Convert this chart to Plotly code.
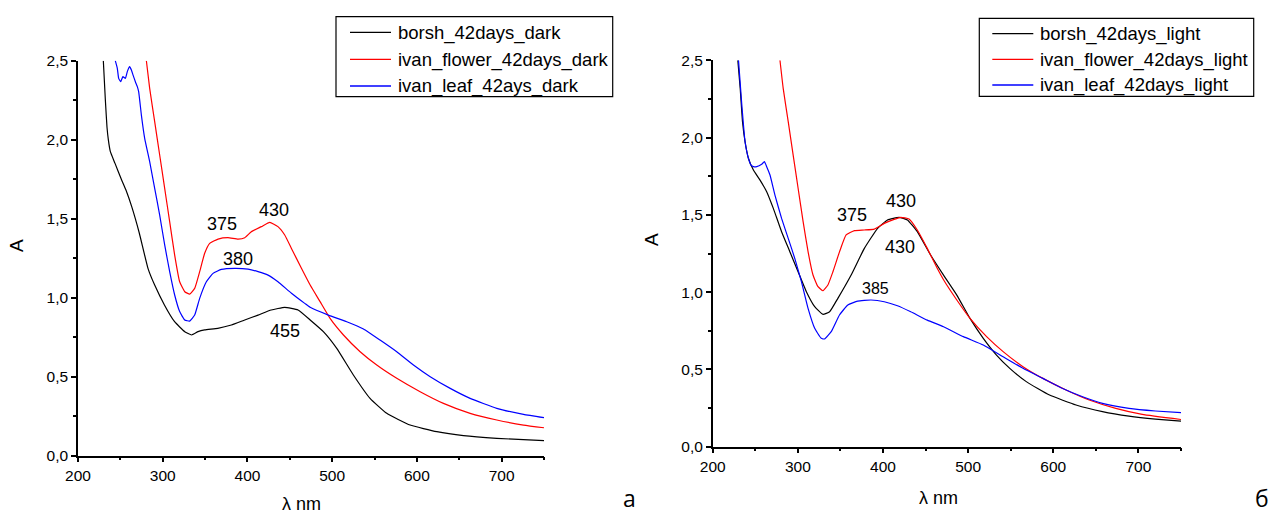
import plotly.graph_objects as go

# ---------------- data ----------------
# Panel a (dark)
borsh_dark_x = [229.9, 232.3, 234.2, 235.8, 238.2, 243.7, 251.5, 256.7, 263.4, 272.4, 282.6, 290.5, 302, 314, 326,
                334, 341.7, 349.5, 365, 381, 396.8, 412.5, 428, 444, 459.7, 474, 489.6, 505.4, 525, 544.7, 564.4,
                592, 623.5, 655, 694.3, 750]
borsh_dark_y = [2.50, 2.25, 2.08, 2.00, 1.924, 1.85, 1.745, 1.68, 1.576, 1.408, 1.186, 1.08, 0.954, 0.848, 0.785,
                0.764, 0.785, 0.796, 0.806, 0.827, 0.859, 0.890, 0.922, 0.939, 0.922, 0.859, 0.785, 0.679, 0.511,
                0.363, 0.268, 0.194, 0.152, 0.127, 0.110, 0.095]

flower_dark_x = [280.7, 284.6, 290.5, 296.4, 302.3, 308.2, 314.1, 320, 326, 331.8, 337.7, 343.6, 349.5, 355.4,
                 365.3, 377, 389, 396.8, 404.6, 416.5, 426.3, 436, 444, 451.9, 463.7, 474, 485.7, 497.5, 513.3,
                 533, 552.6, 576.2, 603.8, 631.3, 662.8, 694.3, 725.8, 750]
flower_dark_y = [2.50, 2.325, 2.114, 1.903, 1.692, 1.481, 1.270, 1.101, 1.038, 1.023, 1.059, 1.165, 1.281, 1.344,
                 1.371, 1.380, 1.371, 1.380, 1.418, 1.450, 1.477, 1.450, 1.397, 1.312, 1.186, 1.080, 0.975, 0.869, 0.764,
                 0.658, 0.574, 0.490, 0.405, 0.331, 0.268, 0.226, 0.194, 0.177]

leaf_dark_x = [244, 246.4, 248, 250.4, 253, 255.9, 258.2, 261, 263, 265, 267.7, 270, 271.6, 274.8, 278.7, 284.6,
               290.5, 296.4, 302.3, 308.2, 314.1, 320, 326, 331.8, 337.7, 343.6, 351.5, 359.4, 369.2, 385, 400.7,
               412.5, 424.3, 436, 451.9, 467.6, 474, 495.5, 517.2, 536.9, 556.5, 576.2, 595.9, 615.7, 639.3, 662.8,
               694.3, 725.8, 750]
leaf_dark_y = [2.50, 2.452, 2.388, 2.367, 2.399, 2.388, 2.431, 2.462, 2.441, 2.409, 2.367, 2.336, 2.304, 2.156, 2.009,
               1.861, 1.692, 1.523, 1.334, 1.165, 1.017, 0.912, 0.859, 0.852, 0.890, 0.996, 1.101, 1.154, 1.179, 1.186,
               1.181, 1.165, 1.143, 1.101, 1.028, 0.964, 0.939, 0.890, 0.848, 0.802, 0.732, 0.658, 0.574, 0.500,
               0.426, 0.363, 0.300, 0.262, 0.241]

# Panel б (light)
borsh_light_x = [229.5, 232.3, 235, 238, 242, 247.8, 255.6, 263.4, 271.2, 280.9, 290.6, 300.3, 310, 319.8, 329.5,
                 337.3, 347, 362.6, 378.1, 393.7, 405.3, 418.9, 428.7, 440.3, 455.9, 471.1, 486.7, 502.2, 517.8,
                 533.3, 548.9, 568.3, 595.6, 626.7, 657.8, 688.9, 720, 750]
borsh_light_y = [2.50, 2.318, 2.103, 1.973, 1.865, 1.790, 1.725, 1.650, 1.542, 1.391, 1.262, 1.132, 1.003, 0.906, 0.856,
                 0.873, 0.960, 1.111, 1.283, 1.413, 1.467, 1.484, 1.467, 1.391, 1.240, 1.11, 0.981, 0.830, 0.701,
                 0.593, 0.507, 0.421, 0.334, 0.270, 0.227, 0.198, 0.179, 0.166]

flower_light_x = [279, 282.8, 288.7, 294.5, 300.3, 306.2, 312, 317.8, 323.7, 329.5, 335.3, 341.2, 349, 356.7, 366.5,
                  378.1, 389.8, 401.5, 413.1, 420.9, 430.6, 440.3, 452, 463.7, 471.1, 486.7, 502.2, 521.7, 541.1,
                  564.4, 587.8, 615, 642.2, 673.4, 704.5, 750]
flower_light_y = [2.50, 2.318, 2.103, 1.887, 1.672, 1.456, 1.262, 1.111, 1.035, 1.009, 1.046, 1.132, 1.262, 1.370, 1.398,
                  1.402, 1.408, 1.445, 1.471, 1.484, 1.473, 1.402, 1.283, 1.154, 1.080, 0.949, 0.830, 0.712, 0.615,
                  0.518, 0.442, 0.367, 0.302, 0.248, 0.209, 0.176]

leaf_light_x = [230.3, 234.2, 238, 242, 245, 247.8, 251.7, 257.5, 260.7, 263.4, 267.3, 273.1, 280.9, 288.7, 296.4,
                304.2, 312, 319.8, 327.5, 331.4, 339.2, 348.9, 358.7, 370.3, 385.9, 401.5, 417, 432.6, 452, 471.1,
                494.4, 517.8, 541.1, 564.4, 587.8, 611.1, 634.5, 657.8, 688.9, 720, 750]
leaf_light_y = [2.50, 2.211, 1.973, 1.865, 1.822, 1.812, 1.812, 1.827, 1.844, 1.812, 1.758, 1.628, 1.477, 1.348, 1.218,
                1.068, 0.895, 0.766, 0.701, 0.697, 0.744, 0.852, 0.917, 0.942, 0.949, 0.938, 0.912, 0.873, 0.819, 0.776,
                0.712, 0.658, 0.582, 0.507, 0.442, 0.377, 0.323, 0.280, 0.248, 0.231, 0.220]

names_dark = ["borsh_42days_dark", "ivan_flower_42days_dark", "ivan_leaf_42ays_dark"]
names_light = ["borsh_42days_light", "ivan_flower_42days_light", "ivan_leaf_42days_light"]
colors = ["#000000", "#ff0000", "#0000ff"]

peak_labels_a = [("375", 370, 1.466), ("430", 431, 1.558), ("380", 389, 1.242), ("455", 444, 0.789)]
peak_labels_b = [("375", 364, 1.496), ("430", 421, 1.590), ("430", 420, 1.295), ("385", 391, 1.024)]

x_ticks = [200, 300, 400, 500, 600, 700]
y_ticks = [0.0, 0.5, 1.0, 1.5, 2.0, 2.5]

# ---------------- figure ----------------
W, H = 1271, 516
FONT = "Liberation Sans, Arial, sans-serif"

fig = go.Figure()

dark = [(borsh_dark_x, borsh_dark_y), (flower_dark_x, flower_dark_y), (leaf_dark_x, leaf_dark_y)]
light = [(borsh_light_x, borsh_light_y), (flower_light_x, flower_light_y), (leaf_light_x, leaf_light_y)]

for (xs, ys), nm, c in zip(dark, names_dark, colors):
    fig.add_trace(go.Scatter(x=xs, y=ys, name=nm, mode="lines", showlegend=False,
                             line=dict(color=c, width=1.2, shape="spline", smoothing=0.4),
                             xaxis="x", yaxis="y"))
for (xs, ys), nm, c in zip(light, names_light, colors):
    fig.add_trace(go.Scatter(x=xs, y=ys, name=nm, mode="lines", showlegend=False,
                             line=dict(color=c, width=1.2, shape="spline", smoothing=0.4),
                             xaxis="x2", yaxis="y2"))


def px_x(p):
    return p / W


def px_y(p):
    return 1 - p / H


axis_common = dict(showline=True, linecolor="black", linewidth=1.5, ticks="outside", ticklen=5,
                   tickwidth=1.5, tickcolor="black", showgrid=False, zeroline=False, automargin=False,
                   tickfont=dict(family=FONT, size=15.5, color="black"), mirror=False)

xa = dict(axis_common, range=[200, 750], tickvals=x_ticks,
          minor=dict(tickvals=[250, 350, 450, 550, 650, 750], ticks="outside", ticklen=3, tickwidth=1.5,
                     tickcolor="black"))
ya = dict(axis_common, range=[0, 2.5], tickvals=y_ticks, tickformat=".1f",
          minor=dict(tickvals=[0.25, 0.75, 1.25, 1.75, 2.25], ticks="outside", ticklen=3, tickwidth=1.5,
                     tickcolor="black"))

fig.update_layout(
    template="none",
    width=W, height=H,
    margin=dict(l=0, r=0, t=0, b=0, pad=0, autoexpand=False),
    paper_bgcolor="white", plot_bgcolor="white",
    separators=", ",
    font=dict(family=FONT, color="black"),
    xaxis=dict(xa, domain=[px_x(78), px_x(544)], anchor="y"),
    yaxis=dict(ya, domain=[px_y(455.7), px_y(60.7)], anchor="x"),
    xaxis2=dict(xa, domain=[px_x(712.7), px_x(1181)], anchor="y2"),
    yaxis2=dict(ya, domain=[px_y(446.7), px_y(60.3)], anchor="x2"),
    showlegend=False,
)

ann = []
shapes = []
for t, x, y in peak_labels_a:
    ann.append(dict(text=t, x=x, y=y, xref="x", yref="y", showarrow=False,
                    xanchor="center", yanchor="middle",
                    font=dict(family=FONT, size=18, color="black")))
for t, x, y in peak_labels_b:
    ann.append(dict(text=t, x=x, y=y, xref="x2", yref="y2", showarrow=False,
                    xanchor="center", yanchor="middle",
                    font=dict(family=FONT, size=16 if t == "385" else 18, color="black")))


def paper_text(text, x, y, size, angle=0, family=FONT, xanchor="center", yanchor="middle"):
    return dict(text=text, x=px_x(x), y=px_y(y), xref="paper", yref="paper", showarrow=False,
                textangle=angle, xanchor=xanchor, yanchor=yanchor,
                font=dict(family=family, size=size, color="black"))


# axis titles and panel letters
ann += [
    paper_text("A", 17, 246, 19, angle=-90),
    paper_text("A", 652, 240, 19, angle=-90),
    paper_text("λ nm", 301, 504, 18),
    paper_text("λ nm", 938, 498, 18),
    paper_text("а", 629, 516, 23, family="Open Sans, sans-serif", yanchor="bottom"),
    paper_text("б", 1262, 516, 23, family="Open Sans, sans-serif", yanchor="bottom"),
]

# legend boxes (drawn in page pixels)
legend_specs = [
    (names_dark, (336, 612.7, 16.7, 96.7), (350, 391, 396), [32.3, 59.3, 86.0]),
    (names_light, (979.3, 1253.7, 18.3, 96.3), (992.3, 1033.3, 1038.3), [33.7, 59.3, 85.0]),
]
for names, (bx0, bx1, by0, by1), (lx0, lx1, tx), rows in legend_specs:
    shapes.append(dict(type="rect", xref="paper", yref="paper", x0=px_x(bx0), x1=px_x(bx1),
                       y0=px_y(by1), y1=px_y(by0), line=dict(color="black", width=1.2),
                       fillcolor="white", layer="above"))
    for nm, c, ry in zip(names, colors, rows):
        shapes.append(dict(type="line", xref="paper", yref="paper", x0=px_x(lx0), x1=px_x(lx1),
                           y0=px_y(ry), y1=px_y(ry), line=dict(color=c, width=1.3), layer="above"))
        ann.append(paper_text(nm, tx, ry + 0.5, 18.5, xanchor="left"))

fig.update_layout(annotations=ann, shapes=shapes)

fig.write_html("out.html", config={"displayModeBar": False},
               post_script="document.body.style.margin='0';document.body.style.padding='0';"
                           "document.body.style.overflow='hidden';")
